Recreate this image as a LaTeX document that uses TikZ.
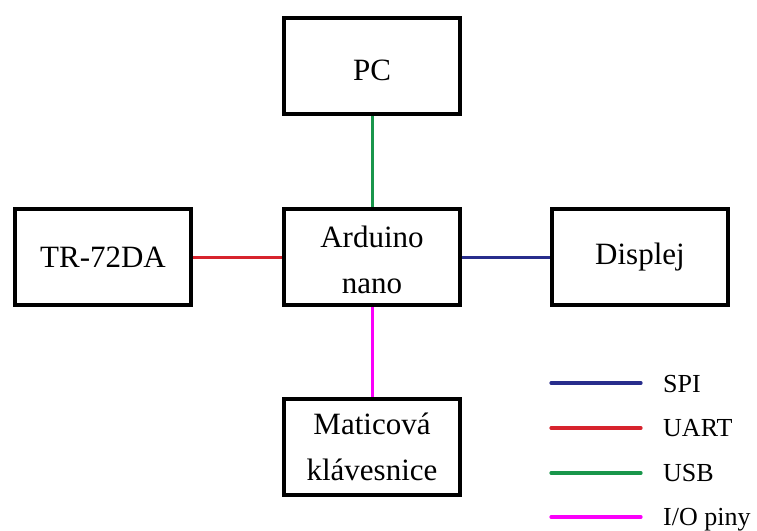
\documentclass[tikz,border=0pt]{standalone}
\usepackage{fontspec}
\setmainfont{Liberation Serif}
\definecolor{spiblue}{RGB}{40,45,140}
\definecolor{uartred}{RGB}{215,35,45}
\definecolor{usbgreen}{RGB}{25,150,75}
\definecolor{iomag}{RGB}{250,0,250}
\newcommand{\lowerby}[2]{\raisebox{0pt}[\dimexpr\height+#1\relax]{#2}}
\tikzset{
  blockbox/.style={draw=black, line width=4pt, minimum width=176pt, minimum height=96pt,
    inner sep=0pt, align=center, font=\fontsize{31}{46}\selectfont},
  conn/.style={line width=3pt},
  legline/.style={line width=3.2pt, line cap=round},
  leglabel/.style={anchor=base west, inner sep=0pt, font=\fontsize{26}{30}\selectfont}
}
\begin{document}
\begin{tikzpicture}[x=1pt,y=-1pt]
\useasboundingbox (0,0) rectangle (757,530);
\node[blockbox] (pc) at (372,66) {\lowerby{8pt}{PC}};
\node[blockbox] (ard) at (372,257) {\lowerby{6pt}{\parbox{170pt}{\centering Arduino\\nano}}};
\node[blockbox] (tr) at (103,257) {TR-72DA};
\node[blockbox] (disp) at (640,257) {Displej};
\node[blockbox] (mat) at (372,447) {Maticová\\klávesnice};
\draw[conn, usbgreen] (pc.south) -- (ard.north);
\draw[conn, uartred] (tr.east) -- (ard.west);
\draw[conn, spiblue] (ard.east) -- (disp.west);
\draw[conn, iomag] (ard.south) -- (mat.north);
\coordinate (l1a) at (551,383); \coordinate (l1b) at (641,383);
\coordinate (l2a) at (551,428); \coordinate (l2b) at (641,428);
\coordinate (l3a) at (551,473); \coordinate (l3b) at (641,473);
\coordinate (l4a) at (551,517); \coordinate (l4b) at (641,517);
\draw[legline, spiblue] (l1a) -- (l1b);
\draw[legline, uartred] (l2a) -- (l2b);
\draw[legline, usbgreen] (l3a) -- (l3b);
\draw[legline, iomag] (l4a) -- (l4b);
\node[leglabel] (t1) at (663,392) {SPI};
\node[leglabel] (t2) at (663,436) {UART};
\node[leglabel] (t3) at (663,481) {USB};
\node[leglabel] (t4) at (663,525) {I/O piny};
\end{tikzpicture}
\end{document}
